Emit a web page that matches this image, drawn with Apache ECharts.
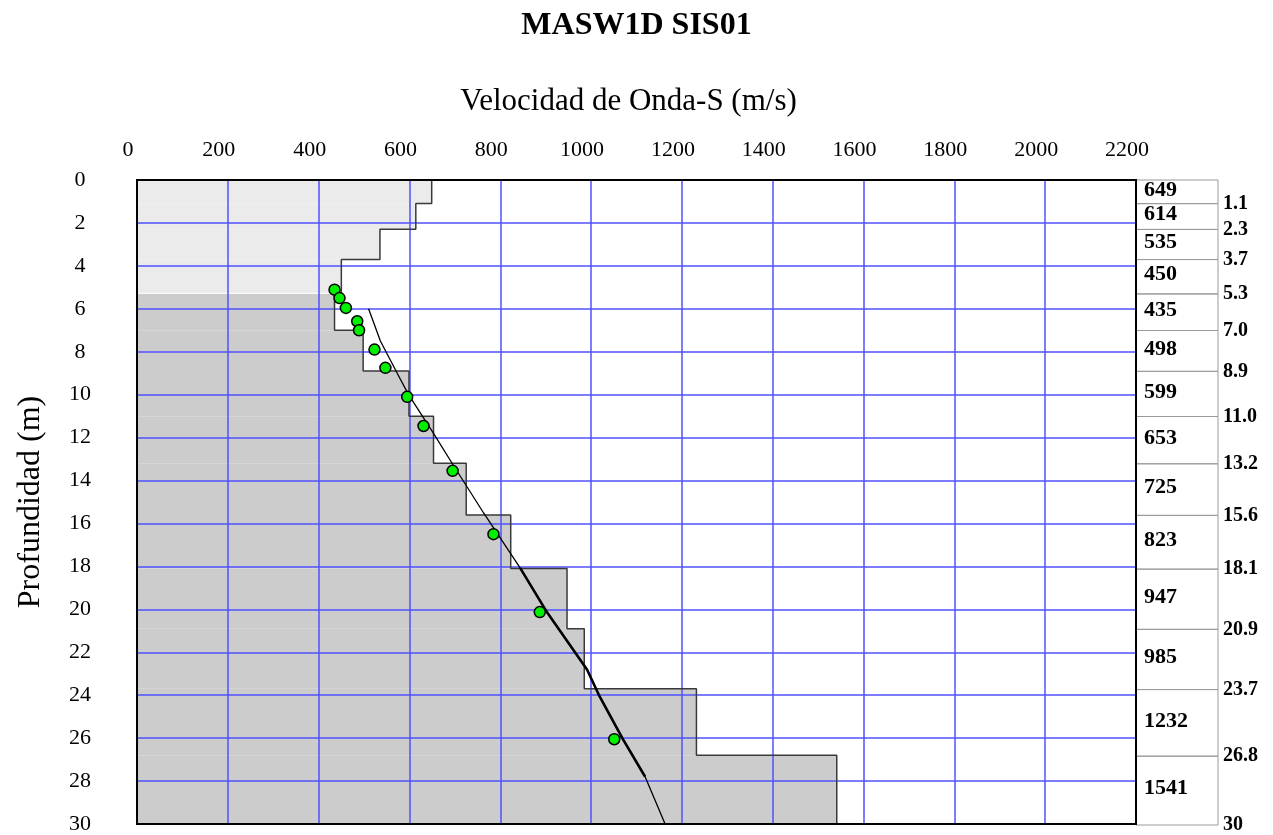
<!DOCTYPE html>
<html>
<head>
<meta charset="utf-8">
<script src="https://cdn.jsdelivr.net/npm/echarts@6/dist/echarts.min.js"></script>
<style>
html,body{margin:0;padding:0;background:#fff;}
#chart{width:1273px;height:835px;}
</style>
</head>
<body>
<div id="chart"></div>
<script>
// ---- data ----
const layerVel = [649, 614, 535, 450, 435, 498, 599, 653, 725, 823, 947, 985, 1232, 1541];
const layerTop = [0, 1.1, 2.3, 3.7, 5.3, 7.0, 8.9, 11.0, 13.2, 15.6, 18.1, 20.9, 23.7, 26.8];
const layerBottom = [1.1, 2.3, 3.7, 5.3, 7.0, 8.9, 11.0, 13.2, 15.6, 18.1, 20.9, 23.7, 26.8, 30];
const depthLabels = ['1.1', '2.3', '3.7', '5.3', '7.0', '8.9', '11.0', '13.2', '15.6', '18.1', '20.9', '23.7', '26.8', '30'];
const shallowZoneDepth = 5.3;

const obsVel = [435, 446, 460, 485, 489, 523, 547, 595, 631, 695, 785, 887, 1051];
const obsDepth = [5.11, 5.50, 5.96, 6.58, 7.00, 7.90, 8.75, 10.10, 11.46, 13.55, 16.50, 20.13, 26.05];

const curveVel = [510, 536, 573, 598, 653, 697, 763, 844, 903, 991, 1017, 1070, 1119, 1163];
const curveDepth = [6.0, 7.5, 9.0, 10.0, 11.8, 13.3, 15.5, 18.08, 20.14, 22.8, 23.98, 26.05, 27.8, 30.0];
const boldFrom = 7, boldTo = 12; // indices of curve segment drawn heavier

const xTicks = {min: 0, max: 2200, interval: 200};
const yTicks = {min: 0, max: 30, interval: 2};

// ---- derived ----
const stepData = [];
layerVel.forEach((v, i) => { stepData.push([v, layerTop[i]]); stepData.push([v, layerBottom[i]]); });
const fillData = layerVel.map((v, i) => [v, layerTop[i], layerBottom[i]]);
const tableData = layerVel.map((v, i) => [0, layerTop[i], layerBottom[i], v]);
const curveData = curveVel.map((v, i) => [v, curveDepth[i]]);
const boldData = curveData.slice(boldFrom, boldTo + 1);
const obsData = obsVel.map((v, i) => [v, obsDepth[i]]);

const SERIF = '"Liberation Serif", "Times New Roman", serif';
const GRIDBLUE = '#5050ff';
const chart = echarts.init(document.getElementById('chart'), null, {renderer: 'canvas'});

chart.setOption({
  animation: false,
  backgroundColor: '#fff',
  title: {
    text: 'MASW1D SIS01', left: 'center', top: 5,
    textStyle: {fontFamily: SERIF, fontSize: 32, fontWeight: 'bold', color: '#000'}
  },
  grid: [
    {left: 137, right: 137, top: 180, bottom: 10, show: true, borderColor: '#000', borderWidth: 2, z: 10},
    {left: 1136, right: 55, top: 180, bottom: 10, show: false}
  ],
  xAxis: [
    {
      gridIndex: 0, type: 'value', position: 'top', min: xTicks.min, max: xTicks.max, interval: xTicks.interval,
      z: 2,
      name: 'Velocidad de Onda-S (m/s)', nameLocation: 'middle', nameGap: 63,
      nameTextStyle: {fontFamily: SERIF, fontSize: 31, color: '#000', padding: [0, 16, 0, 0]},
      axisLine: {show: false}, axisTick: {show: false},
      axisLabel: {fontFamily: SERIF, fontSize: 22, color: '#000', margin: 19, padding: [0, 18, 0, 0],
                  showMinLabel: true, showMaxLabel: true, formatter: function (v) { return String(v); }},
      splitLine: {show: true, lineStyle: {color: GRIDBLUE, width: 1.5}}
    },
    {gridIndex: 1, type: 'value', min: 0, max: 1, show: false}
  ],
  yAxis: [
    {
      gridIndex: 0, type: 'value', inverse: true, min: yTicks.min, max: yTicks.max, interval: yTicks.interval,
      z: 2,
      name: 'Profundidad (m)', nameLocation: 'middle', nameGap: 90, nameRotate: 90,
      nameTextStyle: {fontFamily: SERIF, fontSize: 32, color: '#000'},
      axisLine: {show: false}, axisTick: {show: false},
      axisLabel: {fontFamily: SERIF, fontSize: 22, color: '#000', margin: 57, align: 'center',
                  showMinLabel: true, showMaxLabel: true, formatter: function (v) { return String(v); }},
      splitLine: {show: true, lineStyle: {color: GRIDBLUE, width: 1.5}}
    },
    {gridIndex: 1, type: 'value', inverse: true, min: 0, max: 30, show: false}
  ],
  series: [
    {
      type: 'custom', name: 'fill', xAxisIndex: 0, yAxisIndex: 0, z: 1, silent: true,
      data: fillData,
      renderItem: function (params, api) {
        const v = api.value(0), t = api.value(1), b = api.value(2);
        const p0 = api.coord([0, t]);
        const p1 = api.coord([v, b]);
        const children = [{
          type: 'rect',
          shape: {x: p0[0], y: p0[1], width: p1[0] - p0[0], height: p1[1] - p0[1]},
          style: {fill: t < shallowZoneDepth ? '#ebebeb' : '#cccccc', stroke: null}
        }];
        if (Math.abs(t - shallowZoneDepth) < 1e-9) {
          const q = api.coord([layerVel[params.dataIndex - 1], t]);
          children.push({type: 'line', shape: {x1: p0[0], y1: p0[1] - 0.5, x2: q[0], y2: p0[1] - 0.5},
                         style: {stroke: '#ffffff', lineWidth: 1.2}});
        }
        return {type: 'group', children: children};
      }
    },
    {
      type: 'line', name: 'perfil', xAxisIndex: 0, yAxisIndex: 0, z: 3, data: stepData,
      symbol: 'none', lineStyle: {color: '#3a3a3a', width: 1.5}, silent: true
    },
    {
      type: 'line', name: 'curva', xAxisIndex: 0, yAxisIndex: 0, z: 4, data: curveData,
      symbol: 'none', lineStyle: {color: '#000', width: 1.3}, silent: true
    },
    {
      type: 'line', name: 'curva2', xAxisIndex: 0, yAxisIndex: 0, z: 4, data: boldData,
      symbol: 'none', lineStyle: {color: '#000', width: 2.6}, silent: true
    },
    {
      type: 'scatter', name: 'obs', xAxisIndex: 0, yAxisIndex: 0, z: 5, data: obsData,
      symbol: 'circle', symbolSize: 11,
      itemStyle: {color: '#00f000', borderColor: '#000', borderWidth: 1.5, opacity: 1}
    },
    {
      type: 'custom', name: 'tabla', xAxisIndex: 1, yAxisIndex: 1, z: 3, silent: true, clip: false,
      data: tableData,
      renderItem: function (params, api) {
        const i = params.dataIndex;
        const t = api.value(1), b = api.value(2), v = api.value(3);
        const p0 = api.coord([0, t]);
        const p1 = api.coord([1, b]);
        return {
          type: 'group',
          children: [
            {type: 'rect', shape: {x: p0[0], y: p0[1], width: p1[0] - p0[0], height: p1[1] - p0[1]},
             style: {fill: 'none', stroke: '#9a9a9a', lineWidth: 1}},
            {type: 'text', x: p0[0] + 8, y: (p0[1] + p1[1]) / 2 - 2,
             style: {text: String(v), fontFamily: SERIF, fontSize: 22, fontWeight: 'bold', fill: '#000',
                     align: 'left', verticalAlign: 'middle'}},
            {type: 'text', x: p1[0] + 5, y: p1[1],
             style: {text: depthLabels[i], fontFamily: SERIF, fontSize: 20, fontWeight: 'bold', fill: '#000',
                     align: 'left', verticalAlign: 'middle'}}
          ]
        };
      }
    }
  ]
});
</script>
</body>
</html>
